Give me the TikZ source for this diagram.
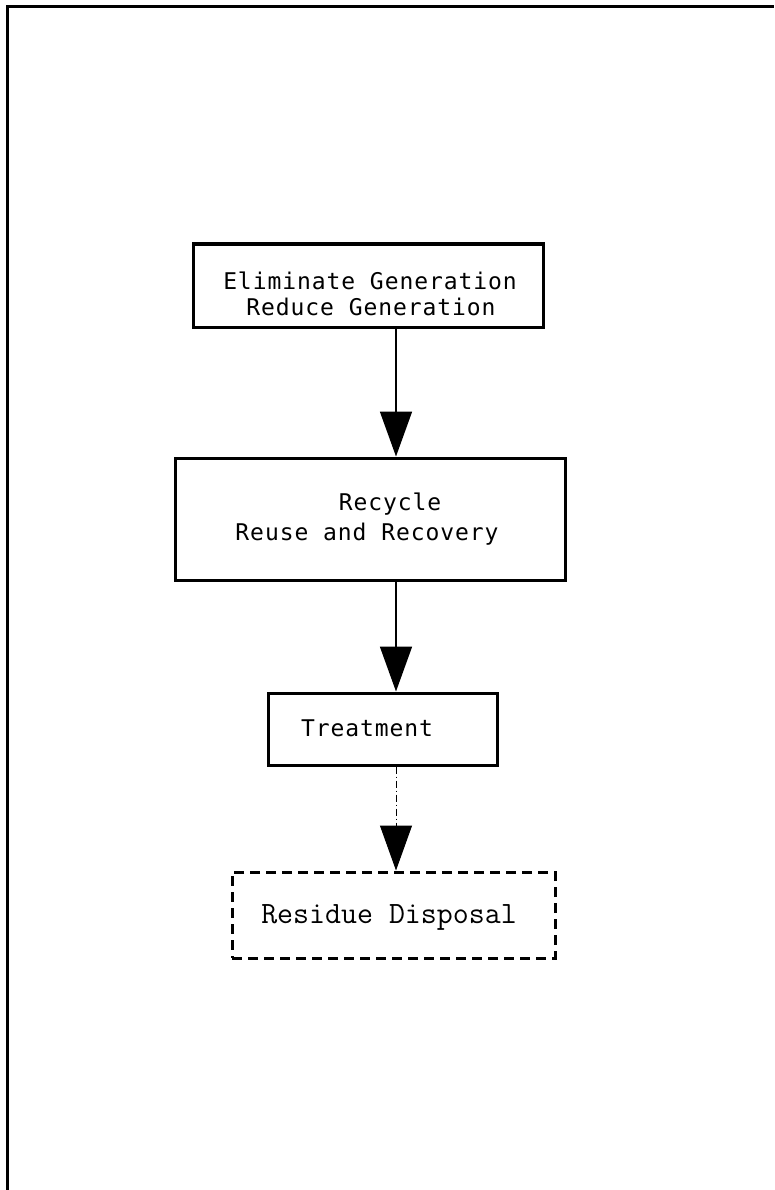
\documentclass[tikz,border=0pt]{standalone}
\usepackage{fontspec}
\setmainfont[LetterSpace=4]{DejaVu Sans Mono}
\usetikzlibrary{arrows.meta}
\begin{document}
\begin{tikzpicture}[x=1pt,y=-1pt,
  stepbox/.style={draw,line width=3pt,inner sep=0pt,anchor=center},
  dashbox/.style={stepbox,dash pattern=on 10pt off 6pt},
  steptext/.style={inner sep=0pt,anchor=center,font=\fontsize{23}{23}\selectfont},
  ttext/.style={inner sep=0pt,anchor=center,font=\ttfamily\fontsize{31}{31}\selectfont},
  flow/.style={line width=1.7pt,-{Triangle[length=45pt,width=32pt]}},
  weakflow/.style={line width=1pt,dash pattern=on 7pt off 3pt on 1pt off 3pt,
    -{Triangle[length=45pt,width=32pt]}}]
\useasboundingbox (0,0) rectangle (774,1190);
% page frame: top and left edges only
\draw[line width=3pt] (7,1190) -- (7,7) -- (774,7);
% arrow axis
\coordinate (ax) at (396,0);
% boxes
\node[stepbox,minimum width=350pt,minimum height=83pt] (gen) at (368,285.5) {};
\node[stepbox,minimum width=390pt,minimum height=122pt] (rec) at (370,519) {};
\node[stepbox,minimum width=229pt,minimum height=72pt] (treat) at (382.5,729) {};
\node[dashbox,minimum width=323pt,minimum height=86pt] (disp) at (393.5,915) {};
% box texts
\node[steptext] (gen1) at (370,281) {Eliminate Generation};
\node[steptext] (gen2) at (371,307) {Reduce Generation};
\node[steptext] (rec1) at (390,504) {Recycle};
\node[steptext] (rec2) at (367,534) {Reuse and Recovery};
\node[steptext] (treat1) at (367,728) {Treatment};
\node[ttext] (disp1) at (389,917) {Residue Disposal};
% connectors
\draw[flow] (gen.south -| ax) -- (rec.north -| ax);
\draw[flow] (rec.south -| ax) -- (treat.north -| ax);
\draw[weakflow] (treat.south -| ax) -- (disp.north -| ax);
\end{tikzpicture}
\end{document}
